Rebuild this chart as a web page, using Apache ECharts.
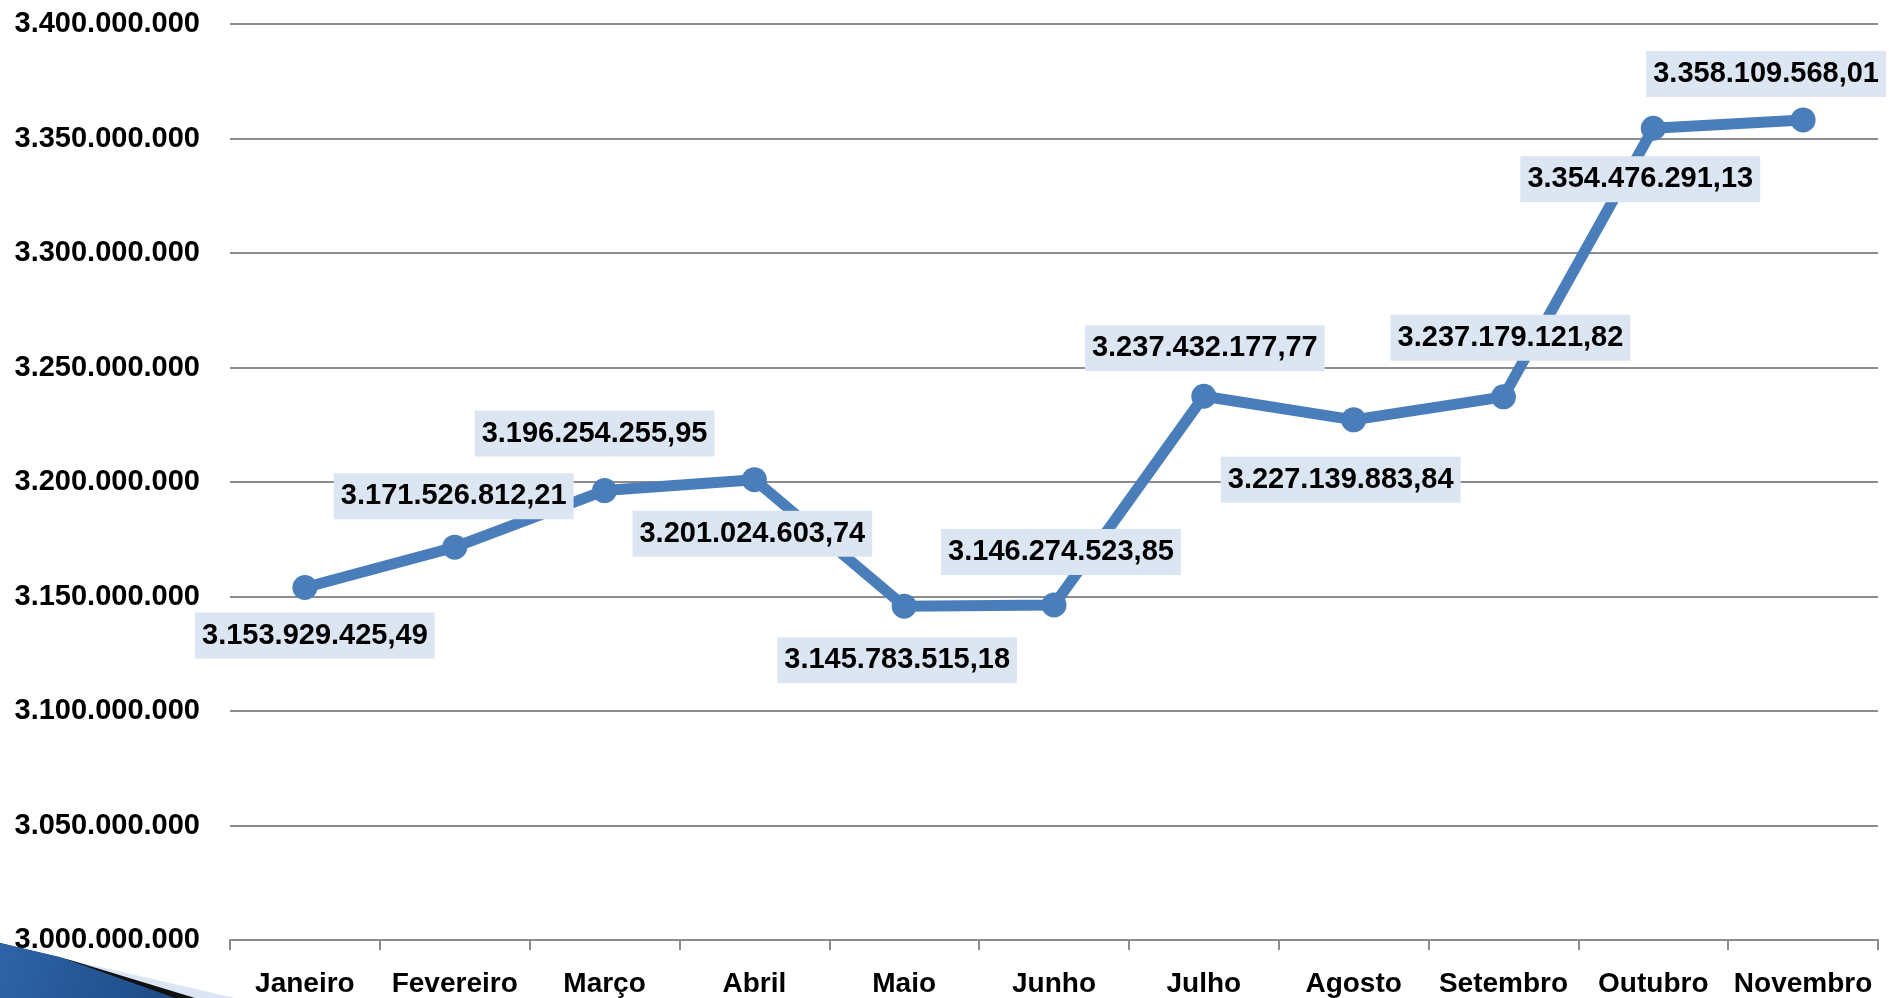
<!DOCTYPE html>
<html>
<head>
<meta charset="utf-8">
<script src="https://cdn.jsdelivr.net/npm/echarts@6/dist/echarts.min.js"></script>
<style>html,body{margin:0;padding:0;background:#fff}#c{width:1889px;height:998px}</style>
</head>
<body>
<div id="c"></div>
<script>
const categories = ['Janeiro','Fevereiro','Março','Abril','Maio','Junho','Julho','Agosto','Setembro','Outubro','Novembro'];
const values = [3153929425.49, 3171526812.21, 3196254255.95, 3201024603.74, 3145783515.18, 3146274523.85, 3237432177.77, 3227139883.84, 3237179121.82, 3354476291.13, 3358109568.01];
const valueLabels = ['3.153.929.425,49','3.171.526.812,21','3.196.254.255,95','3.201.024.603,74','3.145.783.515,18','3.146.274.523,85','3.237.432.177,77','3.227.139.883,84','3.237.179.121,82','3.354.476.291,13','3.358.109.568,01'];
const labelOffsets = [[10,48],[-1,-51],[-10,-57],[-2,54],[-7,54],[7,-53],[1,-48],[-13,60],[7,-59],[-13,51],[-37,-46]];
const yMin = 3000000000, yMax = 3400000000, yStep = 50000000;

function fmt(v){ return String(Math.round(v)).replace(/\B(?=(\d{3})+(?!\d))/g,'.'); }

const FONT = '"Liberation Sans", Arial, sans-serif';
const chart = echarts.init(document.getElementById('c'), null, {renderer:'canvas'});
chart.setOption({
  animation:false,
  backgroundColor:'#ffffff',
  grid:{left:230,right:11,top:24,bottom:57,containLabel:false},
  graphic:[
    {type:'polygon', z:-1, shape:{points:[[0,943],[70,960],[235,998],[0,998]]}, style:{fill:'#dbe5f3'}},
    {type:'polygon', z:-1, shape:{points:[[0,943],[70,960],[195,998],[0,998]]}, style:{fill:'#111111'}},
    {type:'polygon', z:-1, shape:{points:[[0,943],[60,957],[175,998],[0,998]]}, style:{fill:new echarts.graphic.LinearGradient(0,0,1,1,[{offset:0,color:'#2e64a8'},{offset:1,color:'#1d4a86'}])}}
  ],
  xAxis:{
    type:'category', data:categories, boundaryGap:true,
    axisLine:{lineStyle:{color:'#8c8c8c',width:2}},
    axisTick:{show:true,length:10,interval:0,lineStyle:{color:'#8c8c8c',width:2}},
    axisLabel:{interval:0,margin:30,color:'#000',fontWeight:'bold',fontSize:28,fontFamily:FONT}
  },
  yAxis:{
    type:'value', min:yMin, max:yMax, interval:yStep,
    axisLine:{show:false}, axisTick:{show:false},
    splitLine:{lineStyle:{color:'#8c8c8c',width:2}},
    axisLabel:{margin:30,color:'#000',fontWeight:'bold',fontSize:29,fontFamily:FONT,formatter:fmt}
  },
  series:[{
    type:'line',
    data:values.map((v,i)=>({value:v,label:{offset:labelOffsets[i]}})),
    symbol:'circle', symbolSize:25,
    lineStyle:{color:'#4a7ebb',width:11},
    itemStyle:{color:'#4a7ebb'},
    label:{
      show:true, position:'inside',
      formatter:p=>valueLabels[p.dataIndex],
      color:'#000', fontWeight:'bold', fontSize:29, fontFamily:FONT,
      backgroundColor:'#dce6f2', padding:[9,7,8,7]
    }
  }]
});
</script>
</body>
</html>
